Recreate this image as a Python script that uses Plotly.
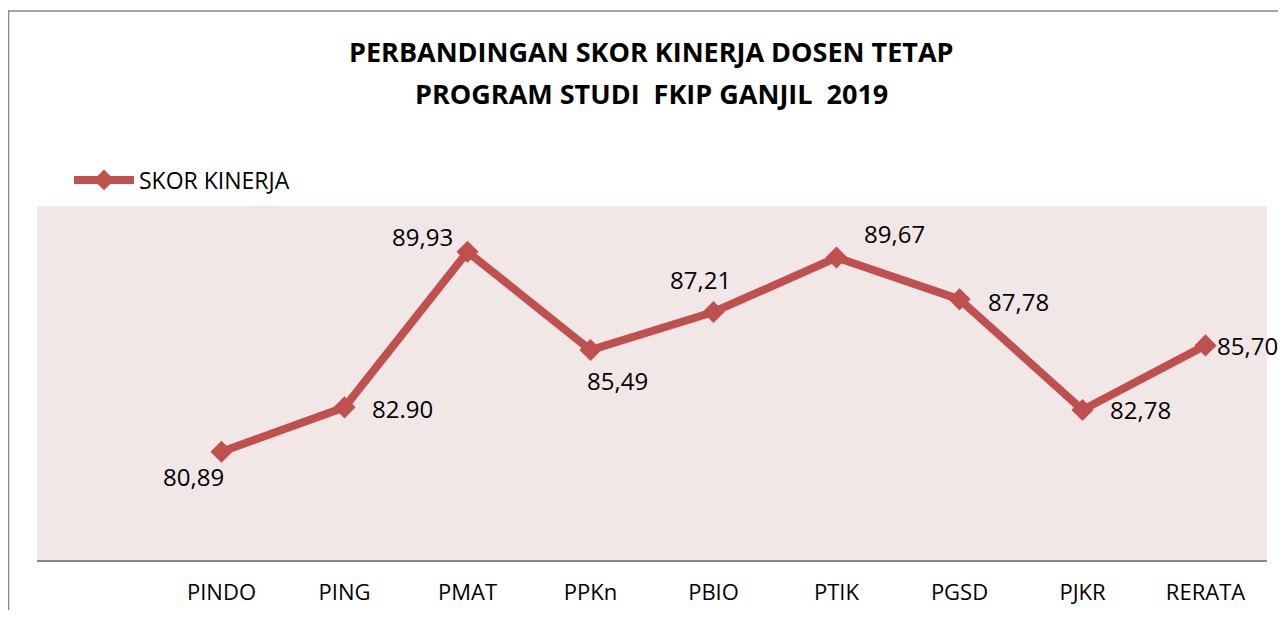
import plotly.graph_objects as go

categories = ["PINDO", "PING", "PMAT", "PPKn", "PBIO", "PTIK", "PGSD", "PJKR", "RERATA"]
scores = [80.89, 82.90, 89.93, 85.49, 87.21, 89.67, 87.78, 82.78, 85.70]
score_labels = ["80,89", "82.90", "89,93", "85,49", "87,21", "89,67", "87,78", "82,78", "85,70"]
series_name = "SKOR KINERJA"
title_lines = ["PERBANDINGAN SKOR KINERJA DOSEN TETAP", "PROGRAM STUDI  FKIP GANJIL  2019"]

# label offsets (px) relative to each point
label_dx = [-28, 58, -45, 27, -13, 58, 59, 58, 42]
label_dy = [-25, -1, 15, -30, 32, 24, -2, 0, 0]

# window is 1286x618; page body has an 8px margin
OFF = 8
W, H = 1286 - 2 * OFF, 618 - 2 * OFF
# plot area in window pixels: x 37..1267, y 206..560
L = 37 - OFF
R = W - (1267 - OFF)
T = 206 - OFF
B = H - (560 - OFF)
pw, ph = W - L - R, H - T - B

def px_x(x):
    return (x - OFF - L) / pw

def px_y(y):
    return (H - B - (y - OFF)) / ph

FONT = "Open Sans"
RED = "#C0504D"

xs = list(range(len(categories)))

fig = go.Figure()
fig.add_trace(go.Scatter(
    x=xs, y=scores, mode="lines+markers", name=series_name,
    line=dict(color=RED, width=8),
    marker=dict(symbol="diamond", size=17, color=RED),
    showlegend=True,
))

annotations = []
for i, (v, t) in enumerate(zip(scores, score_labels)):
    annotations.append(dict(
        x=xs[i], y=v, xref="x", yref="y", text=t, showarrow=False,
        xshift=label_dx[i], yshift=label_dy[i],
        font=dict(family=FONT, size=24, color="#000000"),
        xanchor="center", yanchor="middle",
    ))

for line, ypx in zip(title_lines, [51, 93]):
    annotations.append(dict(
        x=px_x(651.5), y=px_y(ypx), xref="paper", yref="paper",
        text="<b>%s</b>" % line, showarrow=False,
        font=dict(family=FONT, size=27, color="#000000"),
        xanchor="center", yanchor="middle",
    ))

fig.update_layout(
    width=W, height=H,
    margin=dict(l=L, r=R, t=T, b=B, autoexpand=False),
    paper_bgcolor="#FFFFFF",
    plot_bgcolor="#F2E7E7",
    annotations=annotations,
    showlegend=True,
    legend=dict(
        x=px_x(69), y=px_y(180), xanchor="left", yanchor="middle",
        orientation="h", bgcolor="rgba(0,0,0,0)",
        font=dict(family=FONT, size=23, color="#000000"),
        itemwidth=60,
    ),
    xaxis=dict(
        range=[-1.5, 8.5],
        tickmode="array", tickvals=xs, ticktext=categories,
        showgrid=False, zeroline=False,
        showline=True, linecolor="#878787", linewidth=2,
        ticks="", ticklabelstandoff=12, automargin=False,
        tickfont=dict(family=FONT, size=22, color="#000000"),
        fixedrange=True,
    ),
    yaxis=dict(
        range=[76, 92], visible=False, showgrid=False, zeroline=False,
        fixedrange=True, automargin=False,
    ),
    shapes=[dict(
        type="rect", xref="paper", yref="paper",
        x0=px_x(8.5), x1=px_x(1300), y0=px_y(11), y1=px_y(640),
        line=dict(color="#878787", width=1.5), fillcolor="rgba(0,0,0,0)",
        layer="below",
    )],
)

fig.write_html("out.html")
